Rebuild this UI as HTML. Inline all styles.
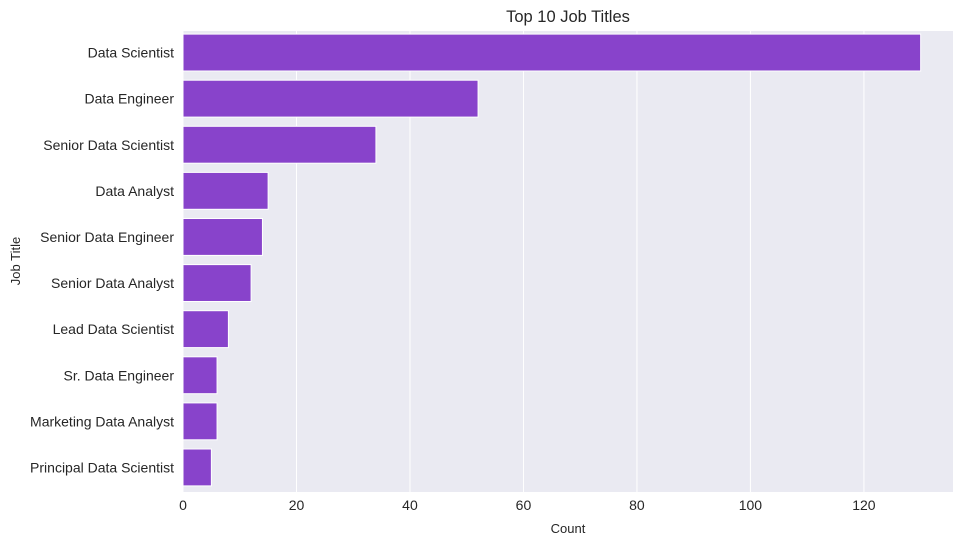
<!DOCTYPE html>
<html><head><meta charset="utf-8"><style>
body{margin:0;background:#fff;}
svg text{font-family:"Liberation Sans",Arial,sans-serif;fill:#262626;}
</style></head><body>
<svg id="chart" width="967" height="545">
<rect x="183" y="31" width="770" height="461" fill="#eaeaf2"/>
<g id="grid"></g><g id="bars"></g><g id="xt"></g><g id="yt"></g>
<text x="568" y="22" text-anchor="middle" font-size="16.5">Top 10 Job Titles</text>
<text x="568" y="533" text-anchor="middle" font-size="13">Count</text>
<text x="20" y="261" text-anchor="middle" font-size="13" transform="rotate(-90 20 261)">Job Title</text>
</svg>
<script>
const categories=["Data Scientist","Data Engineer","Senior Data Scientist","Data Analyst","Senior Data Engineer","Senior Data Analyst","Lead Data Scientist","Sr. Data Engineer","Marketing Data Analyst","Principal Data Scientist"];
const counts=[130,52,34,15,14,12,8,6,6,5];
const xTicks=[0,20,40,60,80,100,120];
const L=183,T=31,W=770,H=461,xmax=135.7;
const NS="http://www.w3.org/2000/svg";
const x=v=>L+v/xmax*W;
const band=H/categories.length;
const y=i=>T+i*band-1.5;
function mk(t,a,p){const e=document.createElementNS(NS,t);for(const k in a)e.setAttribute(k,a[k]);document.getElementById(p).appendChild(e);return e;}
xTicks.forEach(v=>{
 const g=mk("line",{x1:x(v),x2:x(v),y1:T,y2:T+H,stroke:"#fff","stroke-width":1},"grid");
 
 
 const t=mk("text",{x:x(v),y:T+H+18,"text-anchor":"middle","font-size":14},"xt");
 t.textContent=v;
 
 
});
categories.forEach((c,i)=>{
 const r=mk("rect",{x:x(0),y:y(i)+band*0.1,width:x(counts[i])-x(0),height:band*0.8,fill:"#8843cb",stroke:"#fff","stroke-width":1},"bars");
 
 
 const t=mk("text",{x:L-9,y:y(i)+band/2+5,"text-anchor":"end","font-size":14},"yt");
 t.textContent=c;
 
 
});
</script>
</body></html>
